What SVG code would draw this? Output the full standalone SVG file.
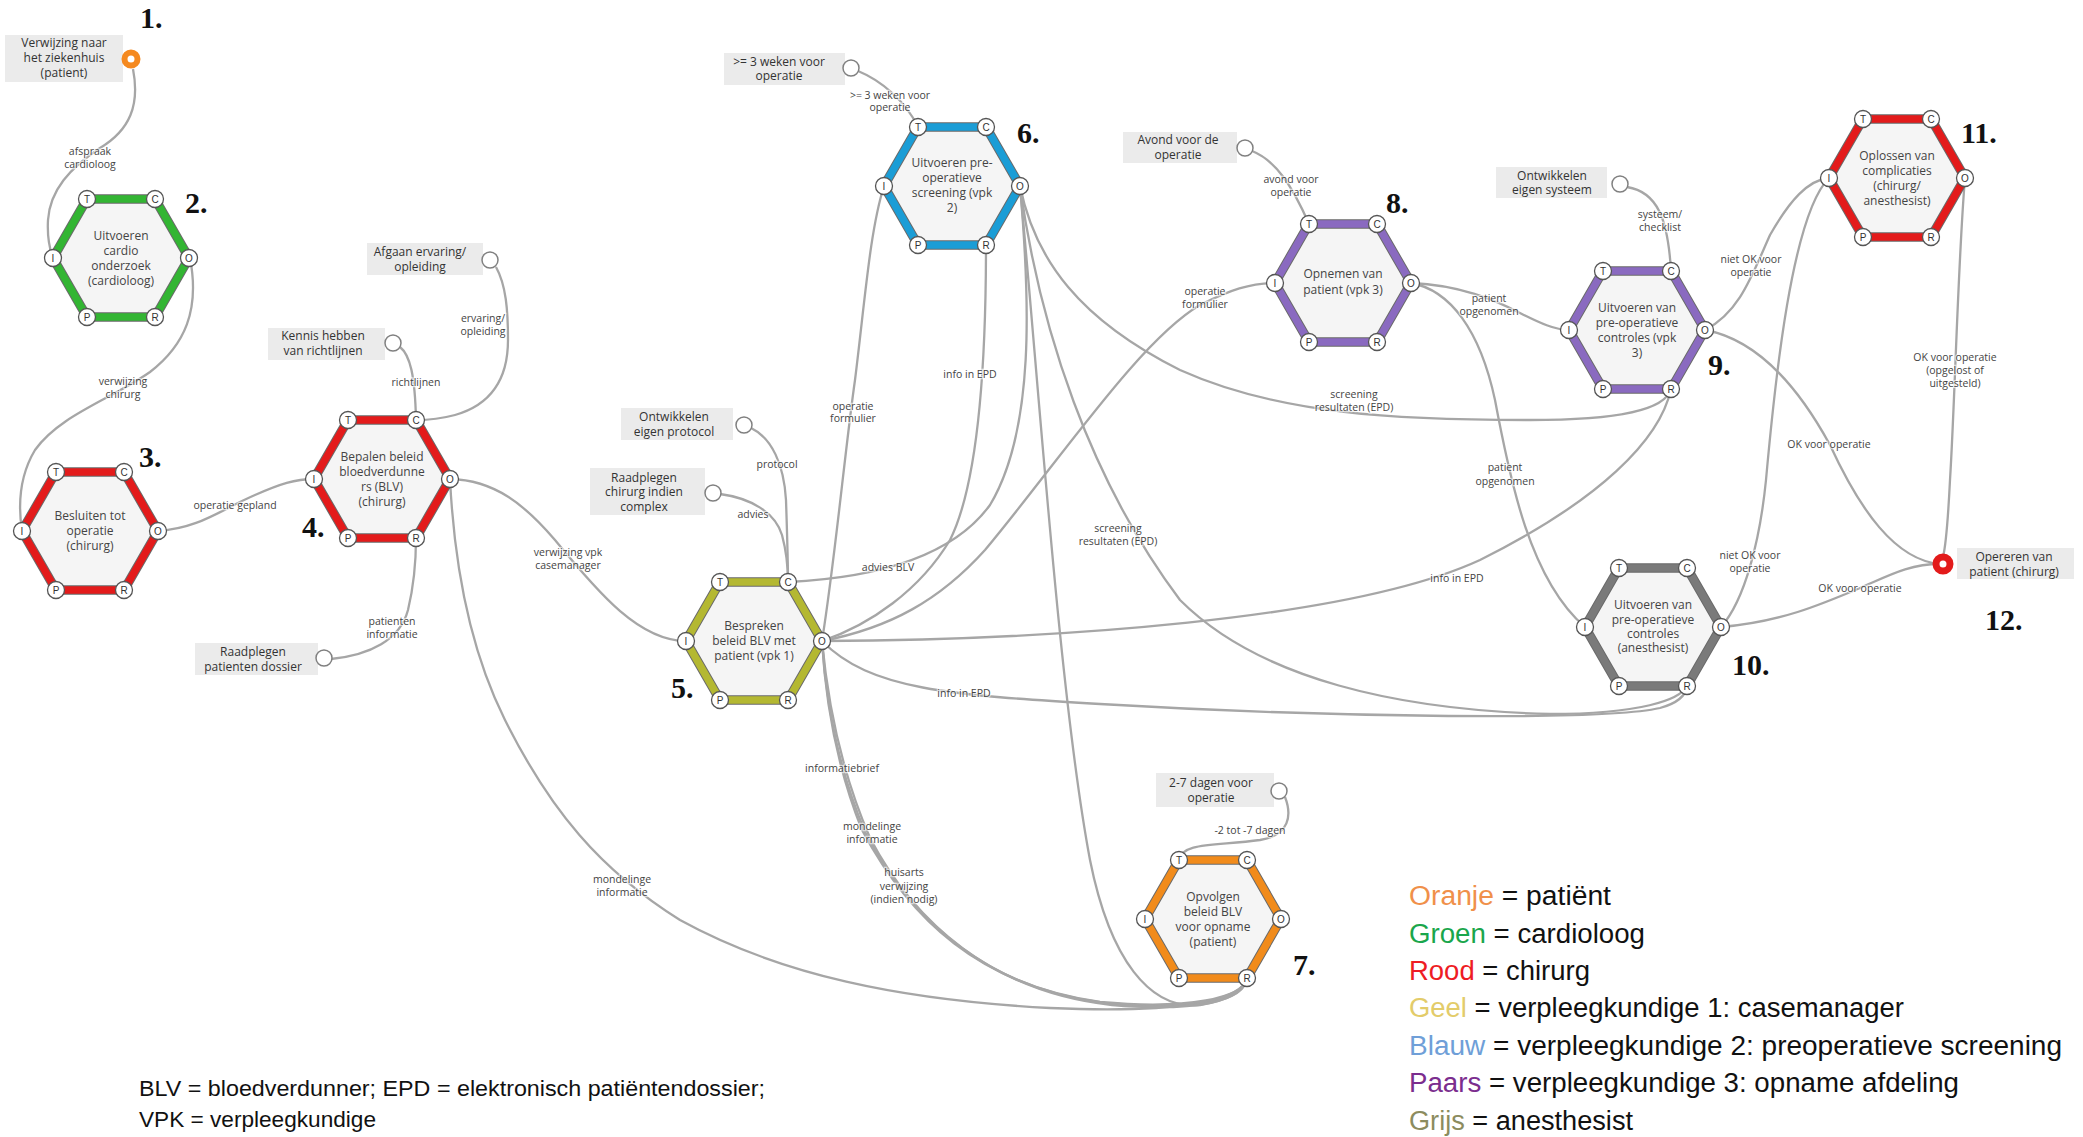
<svg xmlns="http://www.w3.org/2000/svg" xmlns:xlink="http://www.w3.org/1999/xlink" width="2083" height="1137" viewBox="0 0 2083 1137">
<style>
.hexo{fill:#f5f5f5;stroke:#6a6a6a;stroke-width:9.5;stroke-linejoin:miter}
.hexc{fill:none;stroke-width:7.5;stroke-linejoin:miter}
.green{stroke:#33b533}.red{stroke:#e31b1b}.olive{stroke:#b4b832}.blue{stroke:#1b9dd6}
.orange{stroke:#f18b1b}.purple{stroke:#8a6ac0}.gray{stroke:#7a7a7a}
.pc{fill:#fff;stroke:#555;stroke-width:1.3}
.pt{font-family:'Liberation Sans',sans-serif;font-size:10px;fill:#333;text-anchor:middle}
.nt{font-family:'Open Sans',sans-serif;font-size:12px;fill:#444;text-anchor:middle}
.box{fill:#ebebeb}
.bt{font-family:'Open Sans',sans-serif;font-size:12px;fill:#333;text-anchor:middle}
.hole{fill:#fff;stroke:#808080;stroke-width:1.5}
.conn path{fill:none;stroke:#a6a6a6;stroke-width:2.3}
.cl{font-family:'Open Sans',sans-serif;font-size:10.5px;fill:#444;text-anchor:middle;paint-order:stroke;stroke:#fff;stroke-width:2.5;stroke-opacity:0.6}
.num{font-family:'Liberation Serif',serif;font-weight:bold;font-size:30px;fill:#111}
.leg{font-family:'Liberation Sans',sans-serif;font-size:27px;fill:#111}
.note{font-family:'Liberation Sans',sans-serif;font-size:22px;fill:#111}
</style>
<defs>
<polygon id="hx" points="68,0 34,59 -34,59 -68,0 -34,-59 34,-59"/>
<g id="ports">
<circle class="pc" cx="-34" cy="-59" r="8.5"/><text class="pt" x="-34" y="-55.5">T</text>
<circle class="pc" cx="34" cy="-59" r="8.5"/><text class="pt" x="34" y="-55.5">C</text>
<circle class="pc" cx="-68" cy="0" r="8.5"/><text class="pt" x="-68" y="3.5">I</text>
<circle class="pc" cx="68" cy="0" r="8.5"/><text class="pt" x="68" y="3.5">O</text>
<circle class="pc" cx="-34" cy="59" r="8.5"/><text class="pt" x="-34" y="62.5">P</text>
<circle class="pc" cx="34" cy="59" r="8.5"/><text class="pt" x="34" y="62.5">R</text>
</g>
</defs>
<rect width="2083" height="1137" fill="#fff"/>

<g id="connectors" class="conn">
<path d="M133,69 C140,105 130,130 100,148 C70,168 50,190 48,220 C47,238 50,250 53,258"/>
<path d="M190,258 C200,310 185,345 150,372 C110,400 60,415 35,450 C20,475 18,505 22,531"/>
<path d="M158,531 C200,528 220,510 255,495 C280,484 295,479 314,479"/>
<path d="M496,267 C506,285 508,310 508,340 C508,380 490,405 455,415 C440,419 425,420 416,420"/>
<path d="M400,347 C410,355 415,375 416,420"/>
<path d="M331,659 C370,655 400,640 408,610 C414,585 416,560 416,538"/>
<path d="M450,479 C495,480 525,505 555,540 C600,595 640,641 686,641"/>
<path d="M450,479 C455,580 475,660 505,720 C550,810 600,870 680,920 C780,975 900,1000 1050,1008 C1180,1014 1243,1000 1247,978"/>
<path d="M751,428 C772,438 784,465 786,500 C787,530 788,560 788,582"/>
<path d="M720,494 C750,498 775,512 782,535 C786,550 788,565 788,582"/>
<path d="M1020,186 C1030,300 1035,430 990,505 C950,560 870,578 788,582"/>
<path d="M822,641 C835,560 845,450 855,380 C865,300 870,230 884,186"/>
<path d="M822,641 C870,625 920,590 950,540 C980,480 986,350 986,245"/>
<path d="M822,641 C890,628 940,600 985,550 C1060,460 1140,340 1200,305 C1230,290 1250,283 1275,283"/>
<path d="M822,641 C1050,640 1350,620 1480,560 C1600,500 1660,440 1671,389"/>
<path d="M822,641 C870,690 950,695 1100,704 C1300,716 1600,722 1660,708 C1678,703 1686,695 1687,686"/>
<path d="M1020,186 C1035,260 1080,320 1180,370 C1280,415 1400,420 1530,420 C1620,420 1665,410 1671,389"/>
<path d="M1020,186 C1040,330 1090,480 1180,600 C1260,680 1400,710 1550,714 C1640,714 1680,700 1687,686"/>
<path d="M1020,186 C1040,400 1060,700 1090,860 C1110,960 1150,1010 1200,1005 C1230,1000 1245,990 1247,978"/>
<path d="M822,641 C826,710 838,770 862,830 C910,920 980,985 1100,1002 C1190,1010 1243,998 1247,978"/>
<path d="M822,641 C827,712 840,772 865,832 C911,919 985,988 1105,1003 C1192,1011 1244,999 1247,978"/>
<path d="M822,641 C829,716 844,778 870,838 C914,922 992,992 1112,1005 C1196,1012 1245,1001 1247,978"/>
<path d="M1411,283 C1460,285 1495,300 1520,313 C1540,323 1555,330 1569,330"/>
<path d="M1411,283 C1450,290 1480,330 1495,400 C1510,480 1530,580 1585,627"/>
<path d="M1627,187 C1658,192 1668,220 1671,271"/>
<path d="M1252,151 C1275,160 1292,185 1309,224"/>
<path d="M858,71 C880,80 905,100 918,127"/>
<path d="M1285,797 C1292,815 1290,835 1260,840 C1215,846 1182,842 1179,860"/>
<path d="M1705,330 C1740,312 1752,275 1770,235 C1790,200 1808,180 1829,178"/>
<path d="M1721,627 C1745,600 1760,540 1766,480 C1775,380 1792,215 1829,178"/>
<path d="M1705,330 C1760,340 1800,390 1830,445 C1860,510 1895,560 1940,564"/>
<path d="M1721,627 C1780,622 1820,605 1860,588 C1890,575 1910,564 1940,564"/>
<path d="M1965,178 C1958,260 1955,400 1950,480 C1948,520 1946,545 1943,557"/>

<text class="cl" x="90" y="155">afspraak</text><text class="cl" x="90" y="168">cardioloog</text>
<text class="cl" x="123" y="385">verwijzing</text><text class="cl" x="123" y="398">chirurg</text>
<text class="cl" x="235" y="509">operatie gepland</text>
<text class="cl" x="483" y="322">ervaring/</text><text class="cl" x="483" y="335">opleiding</text>
<text class="cl" x="416" y="386">richtlijnen</text>
<text class="cl" x="392" y="625">patienten</text><text class="cl" x="392" y="638">informatie</text>
<text class="cl" x="568" y="556">verwijzing vpk</text><text class="cl" x="568" y="569">casemanager</text>
<text class="cl" x="622" y="883">mondelinge</text><text class="cl" x="622" y="896">informatie</text>
<text class="cl" x="777" y="468">protocol</text>
<text class="cl" x="753" y="518">advies</text>
<text class="cl" x="888" y="571">advies BLV</text>
<text class="cl" x="853" y="410">operatie</text><text class="cl" x="853" y="422">formulier</text>
<text class="cl" x="970" y="378">info in EPD</text>
<text class="cl" x="1205" y="295">operatie</text><text class="cl" x="1205" y="308">formulier</text>
<text class="cl" x="890" y="99">&gt;= 3 weken voor</text><text class="cl" x="890" y="111">operatie</text>
<text class="cl" x="1291" y="183">avond voor</text><text class="cl" x="1291" y="196">operatie</text>
<text class="cl" x="1489" y="302">patient</text><text class="cl" x="1489" y="315">opgenomen</text>
<text class="cl" x="1354" y="398">screening</text><text class="cl" x="1354" y="411">resultaten (EPD)</text>
<text class="cl" x="1118" y="532">screening</text><text class="cl" x="1118" y="545">resultaten (EPD)</text>
<text class="cl" x="1660" y="218">systeem/</text><text class="cl" x="1660" y="231">checklist</text>
<text class="cl" x="1751" y="263">niet OK voor</text><text class="cl" x="1751" y="276">operatie</text>
<text class="cl" x="1955" y="361">OK voor operatie</text><text class="cl" x="1955" y="374">(opgelost of</text><text class="cl" x="1955" y="387">uitgesteld)</text>
<text class="cl" x="1829" y="448">OK voor operatie</text>
<text class="cl" x="1505" y="471">patient</text><text class="cl" x="1505" y="485">opgenomen</text>
<text class="cl" x="1457" y="582">info in EPD</text>
<text class="cl" x="1750" y="559">niet OK voor</text><text class="cl" x="1750" y="572">operatie</text>
<text class="cl" x="1860" y="592">OK voor operatie</text>
<text class="cl" x="964" y="697">info in EPD</text>
<text class="cl" x="842" y="772">informatiebrief</text>
<text class="cl" x="872" y="830">mondelinge</text><text class="cl" x="872" y="843">informatie</text>
<text class="cl" x="904" y="876">huisarts</text><text class="cl" x="904" y="890">verwijzing</text><text class="cl" x="904" y="903">(indien nodig)</text>
<text class="cl" x="1250" y="834">-2 tot -7 dagen</text>
</g>

<g id="n1">
<rect class="box" x="5" y="35" width="118" height="47"/>
<text class="bt" x="64" y="47">Verwijzing naar</text><text class="bt" x="64" y="62">het ziekenhuis</text><text class="bt" x="64" y="77">(patient)</text>
<circle cx="131" cy="59" r="6.5" fill="#fff" stroke="#f5891f" stroke-width="6"/>
<text class="num" x="140" y="28">1.</text>
</g>

<g id="n2" transform="translate(121,258)">
<use xlink:href="#hx" class="hexo"/><use xlink:href="#hx" class="hexc green"/>
<text class="nt" x="0" y="-18">Uitvoeren</text><text class="nt" x="0" y="-3">cardio</text><text class="nt" x="0" y="12">onderzoek</text><text class="nt" x="0" y="27">(cardioloog)</text>
<use xlink:href="#ports"/>
<text class="num" x="64" y="-45">2.</text>
</g>

<g id="n3" transform="translate(90,531)">
<use xlink:href="#hx" class="hexo"/><use xlink:href="#hx" class="hexc red"/>
<text class="nt" x="0" y="-11">Besluiten tot</text><text class="nt" x="0" y="4">operatie</text><text class="nt" x="0" y="19">(chirurg)</text>
<use xlink:href="#ports"/>
<text class="num" x="49" y="-64">3.</text>
</g>

<g id="n4" transform="translate(382,479)">
<use xlink:href="#hx" class="hexo"/><use xlink:href="#hx" class="hexc red"/>
<text class="nt" x="0" y="-18">Bepalen beleid</text><text class="nt" x="0" y="-3">bloedverdunne</text><text class="nt" x="0" y="12">rs (BLV)</text><text class="nt" x="0" y="27">(chirurg)</text>
<use xlink:href="#ports"/>
<text class="num" x="-80" y="58">4.</text>
</g>
<g id="n4a">
<rect class="box" x="367" y="243" width="116" height="32"/>
<text class="bt" x="420" y="256">Afgaan ervaring/</text><text class="bt" x="420" y="271">opleiding</text>
<circle class="hole" cx="490" cy="260" r="8"/>
</g>
<g id="n4b">
<rect class="box" x="268" y="328" width="117" height="32"/>
<text class="bt" x="323" y="340">Kennis hebben</text><text class="bt" x="323" y="355">van richtlijnen</text>
<circle class="hole" cx="393" cy="343" r="8"/>
</g>
<g id="n4c">
<rect class="box" x="195" y="643" width="123" height="32"/>
<text class="bt" x="253" y="656">Raadplegen</text><text class="bt" x="253" y="671">patienten dossier</text>
<circle class="hole" cx="324" cy="658" r="8"/>
</g>

<g id="n5" transform="translate(754,641)">
<use xlink:href="#hx" class="hexo"/><use xlink:href="#hx" class="hexc olive"/>
<text class="nt" x="0" y="-11">Bespreken</text><text class="nt" x="0" y="4">beleid BLV met</text><text class="nt" x="0" y="19">patient (vpk 1)</text>
<use xlink:href="#ports"/>
<text class="num" x="-83" y="57">5.</text>
</g>
<g id="n5a">
<rect class="box" x="621" y="408" width="112" height="32"/>
<text class="bt" x="674" y="421">Ontwikkelen</text><text class="bt" x="674" y="436">eigen protocol</text>
<circle class="hole" cx="744" cy="425" r="8"/>
</g>
<g id="n5b">
<rect class="box" x="590" y="468" width="115" height="47"/>
<text class="bt" x="644" y="482">Raadplegen</text><text class="bt" x="644" y="496">chirurg indien</text><text class="bt" x="644" y="511">complex</text>
<circle class="hole" cx="713" cy="493" r="8"/>
</g>

<g id="n6" transform="translate(952,186)">
<use xlink:href="#hx" class="hexo"/><use xlink:href="#hx" class="hexc blue"/>
<text class="nt" x="0" y="-19">Uitvoeren pre-</text><text class="nt" x="0" y="-4">operatieve</text><text class="nt" x="0" y="11">screening (vpk</text><text class="nt" x="0" y="26">2)</text>
<use xlink:href="#ports"/>
<text class="num" x="65" y="-43">6.</text>
</g>
<g id="n6a">
<rect class="box" x="724" y="53" width="121" height="32"/>
<text class="bt" x="779" y="66">&gt;= 3 weken voor</text><text class="bt" x="779" y="80">operatie</text>
<circle class="hole" cx="851" cy="68" r="8"/>
</g>

<g id="n7" transform="translate(1213,919)">
<use xlink:href="#hx" class="hexo"/><use xlink:href="#hx" class="hexc orange"/>
<text class="nt" x="0" y="-18">Opvolgen</text><text class="nt" x="0" y="-3">beleid BLV</text><text class="nt" x="0" y="12">voor opname</text><text class="nt" x="0" y="27">(patient)</text>
<use xlink:href="#ports"/>
<text class="num" x="80" y="56">7.</text>
</g>
<g id="n7a">
<rect class="box" x="1156" y="773" width="118" height="34"/>
<text class="bt" x="1211" y="787">2-7 dagen voor</text><text class="bt" x="1211" y="802">operatie</text>
<circle class="hole" cx="1279" cy="791" r="8"/>
</g>

<g id="n8" transform="translate(1343,283)">
<use xlink:href="#hx" class="hexo"/><use xlink:href="#hx" class="hexc purple"/>
<text class="nt" x="0" y="-5">Opnemen van</text><text class="nt" x="0" y="11">patient (vpk 3)</text>
<use xlink:href="#ports"/>
<text class="num" x="43" y="-70">8.</text>
</g>
<g id="n8a">
<rect class="box" x="1123" y="132" width="114" height="31"/>
<text class="bt" x="1178" y="144">Avond voor de</text><text class="bt" x="1178" y="159">operatie</text>
<circle class="hole" cx="1245" cy="148" r="8"/>
</g>

<g id="n9" transform="translate(1637,330)">
<use xlink:href="#hx" class="hexo"/><use xlink:href="#hx" class="hexc purple"/>
<text class="nt" x="0" y="-18">Uitvoeren van</text><text class="nt" x="0" y="-3">pre-operatieve</text><text class="nt" x="0" y="12">controles (vpk</text><text class="nt" x="0" y="27">3)</text>
<use xlink:href="#ports"/>
<text class="num" x="71" y="45">9.</text>
</g>
<g id="n9a">
<rect class="box" x="1496" y="167" width="111" height="31"/>
<text class="bt" x="1552" y="180">Ontwikkelen</text><text class="bt" x="1552" y="194">eigen systeem</text>
<circle class="hole" cx="1620" cy="184" r="8"/>
</g>

<g id="n10" transform="translate(1653,627)">
<use xlink:href="#hx" class="hexo"/><use xlink:href="#hx" class="hexc gray"/>
<text class="nt" x="0" y="-18">Uitvoeren van</text><text class="nt" x="0" y="-3">pre-operatieve</text><text class="nt" x="0" y="11">controles</text><text class="nt" x="0" y="25">(anesthesist)</text>
<use xlink:href="#ports"/>
<text class="num" x="79" y="48">10.</text>
</g>

<g id="n11" transform="translate(1897,178)">
<use xlink:href="#hx" class="hexo"/><use xlink:href="#hx" class="hexc red"/>
<text class="nt" x="0" y="-18">Oplossen van</text><text class="nt" x="0" y="-3">complicaties</text><text class="nt" x="0" y="12">(chirurg/</text><text class="nt" x="0" y="27">anesthesist)</text>
<use xlink:href="#ports"/>
<text class="num" x="64" y="-35">11.</text>
</g>

<g id="n12">
<rect class="box" x="1957" y="548" width="117" height="31"/>
<text class="bt" x="2014" y="561">Opereren van</text><text class="bt" x="2014" y="576">patient (chirurg)</text>
<circle cx="1943" cy="564" r="7" fill="#fff" stroke="#e31b1b" stroke-width="7"/>
<text class="num" x="1985" y="630">12.</text>
</g>

<g id="legend">
<text class="leg" x="1409" y="905" textLength="202" lengthAdjust="spacingAndGlyphs"><tspan fill="#f0904a">Oranje</tspan> = patiënt</text>
<text class="leg" x="1409" y="943" textLength="236" lengthAdjust="spacingAndGlyphs"><tspan fill="#1aa64c">Groen</tspan> = cardioloog</text>
<text class="leg" x="1409" y="980" textLength="181" lengthAdjust="spacingAndGlyphs"><tspan fill="#ee1c24">Rood</tspan> = chirurg</text>
<text class="leg" x="1409" y="1017" textLength="495" lengthAdjust="spacingAndGlyphs"><tspan fill="#e3cc6a">Geel</tspan> = verpleegkundige 1: casemanager</text>
<text class="leg" x="1409" y="1055" textLength="653" lengthAdjust="spacingAndGlyphs"><tspan fill="#6f9fd8">Blauw</tspan> = verpleegkundige 2: preoperatieve screening</text>
<text class="leg" x="1409" y="1092" textLength="550" lengthAdjust="spacingAndGlyphs"><tspan fill="#7b2d8e">Paars</tspan> = verpleegkundige 3: opname afdeling</text>
<text class="leg" x="1409" y="1130" textLength="224" lengthAdjust="spacingAndGlyphs"><tspan fill="#8c8c5e">Grijs</tspan> = anesthesist</text>
</g>
<g id="note">
<text class="note" x="139" y="1096" textLength="626" lengthAdjust="spacingAndGlyphs">BLV = bloedverdunner; EPD = elektronisch patiëntendossier;</text>
<text class="note" x="139" y="1127" textLength="237" lengthAdjust="spacingAndGlyphs">VPK = verpleegkundige</text>
</g>
</svg>
